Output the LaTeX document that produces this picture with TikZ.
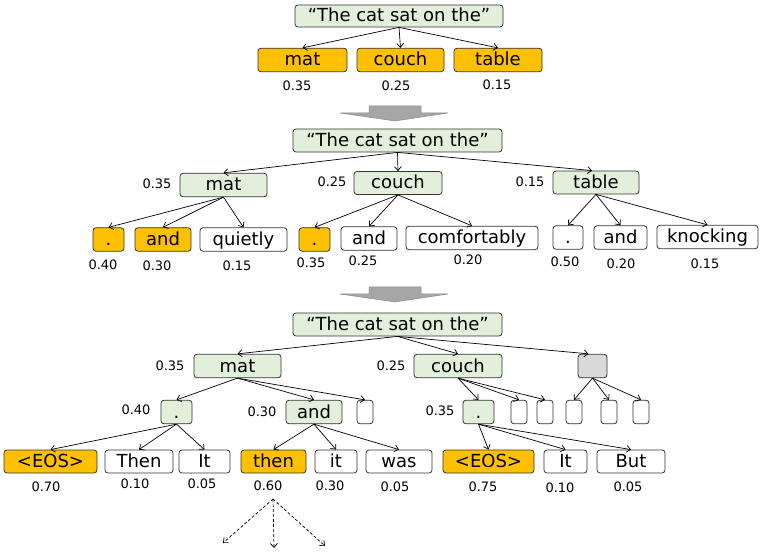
\documentclass[tikz,border=0pt]{standalone}
\usepackage{fontspec}
\setmainfont{DejaVu Sans}
\usetikzlibrary{arrows.meta}
\definecolor{grn}{HTML}{E2EFDA}
\definecolor{org}{HTML}{FFC000}
\definecolor{gry}{HTML}{D9D9D9}
\definecolor{bord}{HTML}{333333}
\definecolor{bigfill}{HTML}{A6A6A6}
\definecolor{bigline}{HTML}{8C8C8C}
\begin{document}
\begin{tikzpicture}[x=1pt,y=-1pt,
 box/.style={draw=bord, line width=0.8pt, rounded corners=3pt, inner sep=0pt, minimum height=23.5pt, text height=12pt, text depth=0pt, font=\fontsize{18}{20}\selectfont},
 gbox/.style={box, fill=grn},
 obox/.style={box, fill=org},
 wbox/.style={box, fill=white},
 ybox/.style={box, fill=gry},
 num/.style={inner sep=0pt, text height=9.5pt, text depth=0pt, font=\fontsize{13}{15}\selectfont},
 arr/.style={draw=black, line width=0.7pt, -{Straight Barb[length=4pt,width=7pt]}},
 darr/.style={arr, dash pattern=on 3pt off 2pt},
 big/.style={fill=bigfill, draw=bigline, line width=0.5pt}]
\useasboundingbox (0,0) rectangle (763,553);

% ---------- top ----------
\node[gbox, minimum width=208pt, minimum height=22pt] (r1) at (399,16) {“The cat sat on the”};
\node[obox, minimum width=89pt] (t1mat) at (302.5,60) {mat};
\node[obox, minimum width=87pt] (t1couch) at (400.5,60) {couch};
\node[obox, minimum width=88pt] (t1table) at (498,60) {table};
\node[num] (n1a) at (297,86) {0.35};
\node[num] (n1b) at (396,86) {0.25};
\node[num] (n1c) at (497,85) {0.15};
\foreach \t in {t1mat,t1couch,t1table} \draw[arr] (r1.south) -- (\t.north);

% big arrow 1
\path[big] (369,106) -- (421,106) -- (421,113) -- (448,113) -- (395,121) -- (340,113) -- (369,113) -- cycle;

% ---------- middle ----------
\node[gbox, minimum width=209pt, minimum height=23pt] (r2) at (397.5,140.5) {“The cat sat on the”};
\node[gbox, minimum width=87pt] (m2mat) at (223.5,185) {mat};
\node[gbox, minimum width=88pt, minimum height=23pt] (m2couch) at (398,183) {couch};
\node[gbox, minimum width=86pt, minimum height=23pt] (m2table) at (596,182.5) {table};
\node[num] at (157,184) {0.35};
\node[num] at (332,182) {0.25};
\node[num] at (530,182) {0.15};

\node[obox, minimum width=31pt] (m2d1) at (108.5,239.5) {.};
\node[obox, minimum width=56pt] (m2and1) at (163,239.5) {and};
\node[wbox, minimum width=87pt] (m2quiet) at (243.5,239.5) {quietly};
\node[obox, minimum width=31pt] (m2d2) at (314.5,239.5) {.};
\node[wbox, minimum width=56pt] (m2and2) at (369,238.5) {and};
\node[wbox, minimum width=132pt] (m2comf) at (472,238) {comfortably};
\node[wbox, minimum width=30pt] (m2d3) at (568,237.5) {.};
\node[wbox, minimum width=53pt] (m2and3) at (620.5,237.5) {and};
\node[wbox, minimum width=101pt] (m2knock) at (707.5,237) {knocking};
\node[num] at (103,265) {0.40};
\node[num] at (157,266) {0.30};
\node[num] at (237,266) {0.15};
\node[num] at (311,263) {0.35};
\node[num] at (363,261) {0.25};
\node[num] at (468,260) {0.20};
\node[num] at (565,262) {0.50};
\node[num] at (621,264) {0.20};
\node[num] at (705,264) {0.15};

\draw[arr] (r2.south) -- (m2mat.north);
\draw[arr] (r2.south) -- (m2couch.north);
\draw[arr] (r2.south) -- ([xshift=-4pt]m2table.north);
\foreach \t in {m2d1,m2and1,m2quiet} \draw[arr] (m2mat.south) -- (\t.north);
\foreach \t in {m2d2,m2and2,m2comf} \draw[arr] (m2couch.south) -- (\t.north);
\foreach \t in {m2d3,m2and3,m2knock} \draw[arr] (m2table.south) -- (\t.north);

% big arrow 2
\path[big] (369,287) -- (421,287) -- (421,294) -- (448,294) -- (395,302) -- (340,294) -- (369,294) -- cycle;

% ---------- bottom ----------
\node[gbox, minimum width=209pt, minimum height=23pt] (r3) at (397.5,324.5) {“The cat sat on the”};
\node[gbox, minimum width=87pt] (b3mat) at (237.5,366) {mat};
\node[gbox, minimum width=88pt] (b3couch) at (458,366) {couch};
\node[ybox, minimum width=29pt] (b3gray) at (592.5,366) {};
\node[num] at (170,366) {0.35};
\node[num] at (391,366) {0.25};

\node[gbox, minimum width=31pt] (b3d1) at (176.5,412) {.};
\node[gbox, minimum width=56pt] (b3and) at (314,412) {and};
\node[wbox, minimum width=16pt] (b3e1) at (365,412) {};
\node[gbox, minimum width=31pt] (b3d2) at (478.5,412) {.};
\node[wbox, minimum width=16pt] (b3e2) at (519,412) {};
\node[wbox, minimum width=16pt] (b3e3) at (545,412) {};
\node[wbox, minimum width=16pt] (b3e4) at (574,412) {};
\node[wbox, minimum width=16pt] (b3e5) at (609,412) {};
\node[wbox, minimum width=16pt] (b3e6) at (641,412) {};
\node[num] at (136,410) {0.40};
\node[num] at (262,412) {0.30};
\node[num] at (440,411) {0.35};

\node[obox, minimum width=93pt, minimum height=23pt] (b3eos1) at (50.5,461.5) {<EOS>};
\node[wbox, minimum width=68pt, minimum height=23pt] (b3Then) at (139,461.5) {Then};
\node[wbox, minimum width=51pt, minimum height=23pt] (b3It1) at (204.5,461.5) {It};
\node[obox, minimum width=65pt, minimum height=23pt] (b3then) at (273.5,461.5) {then};
\node[wbox, minimum width=42pt, minimum height=23pt] (b3it) at (336,461.5) {it};
\node[wbox, minimum width=66pt, minimum height=23pt] (b3was) at (399,461.5) {was};
\node[obox, minimum width=91pt, minimum height=23pt] (b3eos2) at (488.5,461.5) {<EOS>};
\node[wbox, minimum width=43pt, minimum height=23pt] (b3It2) at (565.5,461.5) {It};
\node[wbox, minimum width=68pt, minimum height=23pt] (b3But) at (631,461.5) {But};
\node[num] at (46,487) {0.70};
\node[num] at (135,484) {0.10};
\node[num] at (202,484) {0.05};
\node[num] (n060) at (268,486) {0.60};
\node[num] at (330,486) {0.30};
\node[num] at (395,487) {0.05};
\node[num] at (483,487) {0.75};
\node[num] at (560,488) {0.10};
\node[num] at (628,487) {0.05};

\draw[arr] (r3.south) -- (b3mat.north);
\draw[arr] (r3.south) -- (b3couch.north);
\draw[arr] (r3.south) -- ([xshift=-4pt]b3gray.north);
\foreach \t in {b3d1,b3and,b3e1} \draw[arr] (b3mat.south) -- (\t.north);
\foreach \t in {b3d2,b3e2,b3e3} \draw[arr] (b3couch.south) -- (\t.north);
\foreach \t in {b3e4,b3e5,b3e6} \draw[arr] (b3gray.south) -- (\t.north);
\foreach \t in {b3eos1,b3Then,b3It1} \draw[arr] (b3d1.south) -- (\t.north);
\foreach \t in {b3then,b3it,b3was} \draw[arr] (b3and.south) -- (\t.north);
\foreach \t in {b3eos2,b3It2,b3But} \draw[arr] (b3d2.south) -- (\t.north);

\coordinate (d0) at (273,499);
\coordinate (d1) at (223,543);
\coordinate (d2) at (274,548);
\coordinate (d3) at (325,546);
\foreach \t in {d1,d2,d3} \draw[darr] (d0) -- (\t);
\end{tikzpicture}
\end{document}
